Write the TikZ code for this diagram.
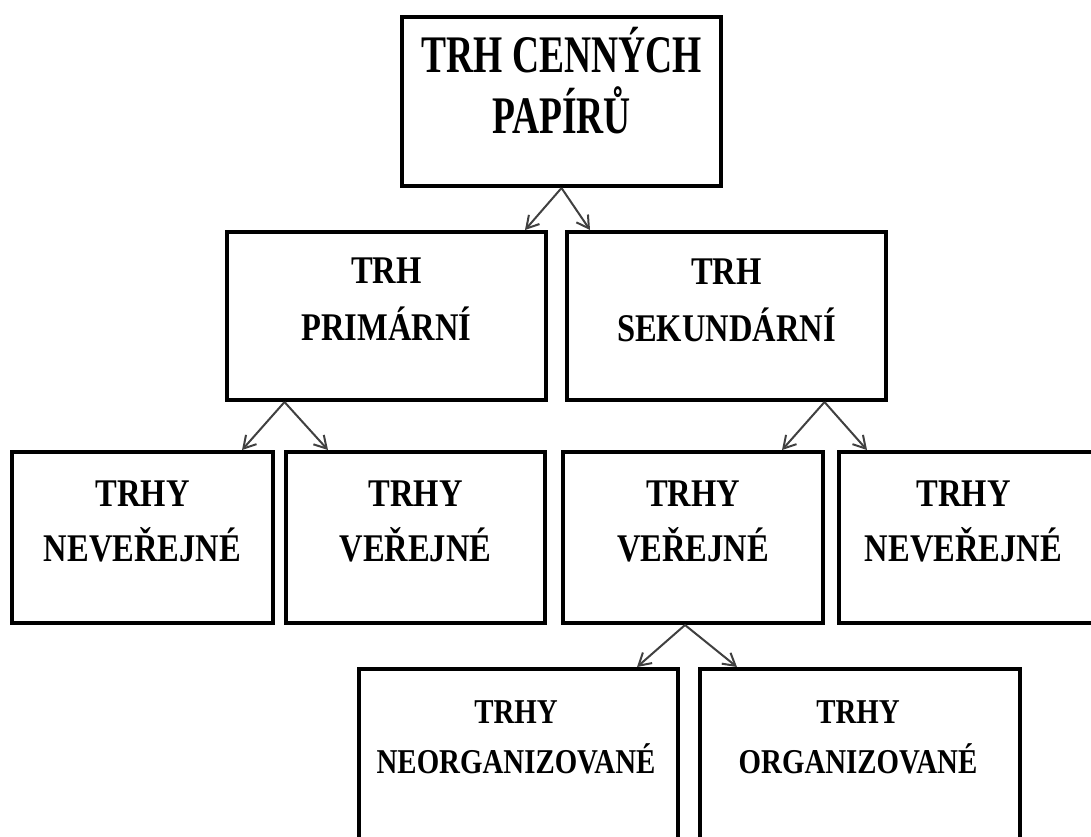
\documentclass[tikz,border=0pt]{standalone}
\usepackage{fontspec}
\newfontfamily\topfont{Liberation Serif}[FakeStretch=0.71]
\newfontfamily\boxfont{Liberation Serif}[FakeStretch=0.83]
\usetikzlibrary{arrows.meta, positioning}
\definecolor{arrowgray}{RGB}{64,64,64}
\tikzset{
  box/.style={rectangle, draw, line width=2pt, inner sep=0pt},
  toptext/.style={anchor=base, align=center, inner sep=0pt,
    font=\topfont\bfseries\fontsize{26.4}{30.5}\selectfont},
  midtext/.style={anchor=base, align=center, inner sep=0pt,
    font=\boxfont\bfseries\fontsize{19.6}{28.5}\selectfont},
  lowtext/.style={anchor=base, align=center, inner sep=0pt,
    font=\boxfont\bfseries\fontsize{19.6}{27.5}\selectfont},
  subtext/.style={anchor=base, align=center, inner sep=0pt,
    font=\boxfont\bfseries\fontsize{17.4}{25}\selectfont},
  arrow/.style={-{Straight Barb[length=6pt, width=7pt]}, line width=1pt,
    color=arrowgray},
}

\begin{document}
\begin{tikzpicture}[x=0.5pt, y=-0.5pt]
  \useasboundingbox (0,0) rectangle (1091,836);

  % boxes
  \node[box, minimum width=159.5pt, minimum height=84.5pt] (trh) at (561.5,101.5) {};
  \node[box, minimum width=159.5pt, minimum height=84pt] (prim) at (386.5,316) {};
  \node[box, minimum width=159.5pt, minimum height=84pt] (sek) at (726.5,316) {};
  \node[box, minimum width=130.5pt, minimum height=85.5pt] (nevA) at (142.5,537.5) {};
  \node[box, minimum width=129.5pt, minimum height=85.5pt] (verA) at (415.5,537.5) {};
  \node[box, minimum width=130pt, minimum height=85.5pt] (verB) at (693,537.5) {};
  \node[box, minimum width=130.5pt, minimum height=85.5pt] (nevB) at (969.5,537.5) {};
  \node[box, minimum width=159.5pt, minimum height=115.5pt] (neorg) at (518.5,784.5) {};
  \node[box, minimum width=160pt, minimum height=115.5pt] (org) at (860,784.5) {};

  % texts (base = last line)
  \node[toptext] (trht) at (561.5,133) {TRH CENNÝCH\\PAPÍRŮ};
  \node[midtext] (primt) at (386.5,340) {TRH\\PRIMÁRNÍ};
  \node[midtext] (sekt) at (726.5,341) {TRH\\SEKUNDÁRNÍ};
  \node[lowtext] (nevAt) at (142.5,561) {TRHY\\NEVEŘEJNÉ};
  \node[lowtext] (verAt) at (415.5,561) {TRHY\\VEŘEJNÉ};
  \node[lowtext] (verBt) at (693,561) {TRHY\\VEŘEJNÉ};
  \node[lowtext] (nevBt) at (963.5,561) {TRHY\\NEVEŘEJNÉ};
  \node[subtext] (neorgt) at (516,773) {TRHY\\NEORGANIZOVANÉ};
  \node[subtext] (orgt) at (858,773) {TRHY\\ORGANIZOVANÉ};

  % arrows
  \draw[arrow] (trh.south) -- ([xshift=-11.5pt]prim.north east);
  \draw[arrow] (trh.south) -- ([xshift=12.5pt]sek.north west);
  \draw[arrow] ([xshift=-51pt]prim.south) -- ([xshift=-16.5pt]nevA.north east);
  \draw[arrow] ([xshift=-51pt]prim.south) -- ([xshift=22pt]verA.north west);
  \draw[arrow] ([xshift=49pt]sek.south) -- ([xshift=-21.5pt]verB.north east);
  \draw[arrow] ([xshift=49pt]sek.south) -- ([xshift=15pt]nevB.north west);
  \draw[arrow] ([xshift=-4pt]verB.south) -- ([xshift=-21.5pt]neorg.north east);
  \draw[arrow] ([xshift=-4pt]verB.south) -- ([xshift=19.5pt]org.north west);
\end{tikzpicture}
\end{document}
